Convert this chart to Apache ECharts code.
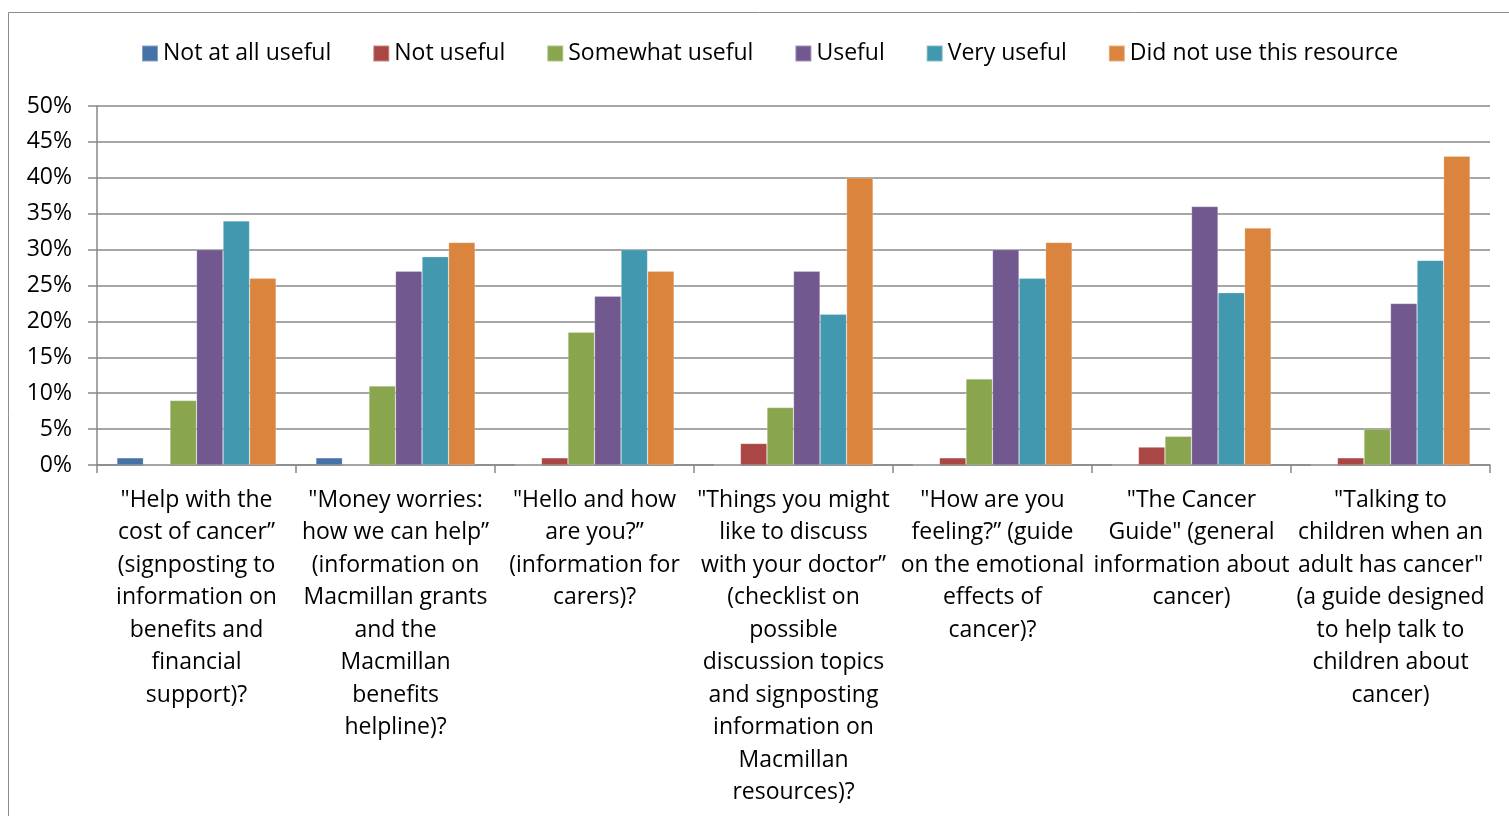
<!DOCTYPE html>
<html>
<head>
<meta charset="utf-8">
<script src="https://cdn.jsdelivr.net/npm/echarts@6/dist/echarts.min.js"></script>
<style>
  html, body { margin: 0; padding: 0; background: #fff; }
  #chart { width: 1509px; height: 816px; }
</style>
</head>
<body>
<div id="chart"></div>
<script>
// Resource categories (label text wrapped as printed under each group)
const categories = [
  '"Help with the\ncost of cancer”\n(signposting to\ninformation on\nbenefits and\nfinancial\nsupport)?',
  '"Money worries:\nhow we can help”\n(information on\nMacmillan grants\nand the\nMacmillan\nbenefits\nhelpline)?',
  '"Hello and how\nare you?”\n(information for\ncarers)?',
  '"Things you might\nlike to discuss\nwith your doctor”\n(checklist on\npossible\ndiscussion topics\nand signposting\ninformation on\nMacmillan\nresources)?',
  '"How are you\nfeeling?” (guide\non the emotional\neffects of\ncancer)?',
  '"The Cancer\nGuide" (general\ninformation about\ncancer)',
  '"Talking to\nchildren when an\nadult has cancer"\n(a guide designed\nto help talk to\nchildren about\ncancer)'
];

const seriesNames = ['Not at all useful', 'Not useful', 'Somewhat useful', 'Useful', 'Very useful', 'Did not use this resource'];

// Percentages per resource
const notAtAllUseful = [1, 1, 0, 0, 0, 0, 0];
const notUseful      = [0, 0, 1, 3, 1, 2.5, 1];
const somewhatUseful = [9, 11, 18.5, 8, 12, 4, 5];
const useful         = [30, 27, 23.5, 27, 30, 36, 22.5];
const veryUseful     = [34, 29, 30, 21, 26, 24, 28.5];
const didNotUse      = [26, 31, 27, 40, 31, 33, 43];

const seriesValues = [notAtAllUseful, notUseful, somewhatUseful, useful, veryUseful, didNotUse];
const colors = ['#4572A7', '#AA4643', '#89A54E', '#71588F', '#4198AF', '#DB843D'];

const FONT = "'Open Sans', 'Noto Sans', sans-serif";
const FONT_SIZE = 23;

const chart = echarts.init(document.getElementById('chart'), null, { renderer: 'canvas' });

chart.setOption({
  animation: false,
  color: colors,
  textStyle: { fontFamily: FONT },
  graphic: [{
    type: 'rect',
    shape: { x: 8.5, y: 12.5, width: 1700, height: 1000 },
    style: { fill: null, stroke: '#8c8c8c', lineWidth: 1 },
    silent: true,
    z: -10
  }],
  legend: {
    top: 37,
    left: 136,
    itemWidth: 16,
    itemHeight: 16,
    itemGap: 41,
    icon: 'rect',
    textStyle: { fontSize: FONT_SIZE, color: '#000', fontFamily: FONT },
    data: seriesNames
  },
  grid: { left: 97, right: 19, top: 106, bottom: 351, containLabel: false },
  xAxis: {
    type: 'category',
    data: categories,
    axisLine: { show: true, lineStyle: { color: '#888', width: 1.5 } },
    axisTick: { show: true, alignWithLabel: false, length: 8, lineStyle: { color: '#888', width: 1.5 } },
    axisLabel: {
      interval: 0,
      margin: 19,
      fontSize: FONT_SIZE,
      lineHeight: 32.5,
      color: '#000',
      fontFamily: FONT,
      align: 'center',
      verticalAlign: 'top'
    }
  },
  yAxis: {
    type: 'value',
    min: 0,
    max: 50,
    interval: 5,
    axisLine: { show: true, lineStyle: { color: '#888', width: 1.5 } },
    axisTick: { show: true, length: 9, lineStyle: { color: '#888', width: 1.5 } },
    splitLine: { show: true, lineStyle: { color: '#888', width: 1.5 } },
    axisLabel: {
      formatter: '{value}%',
      fontSize: FONT_SIZE,
      color: '#000',
      margin: 25,
      fontFamily: FONT
    }
  },
  series: seriesNames.map((name, i) => ({
    name,
    type: 'bar',
    data: seriesValues[i],
    barGap: '0%',
    barCategoryGap: '20%',
    itemStyle: { color: colors[i], borderColor: 'rgba(255,255,255,0.35)', borderWidth: 0.6 }
  }))
});
</script>
</body>
</html>
